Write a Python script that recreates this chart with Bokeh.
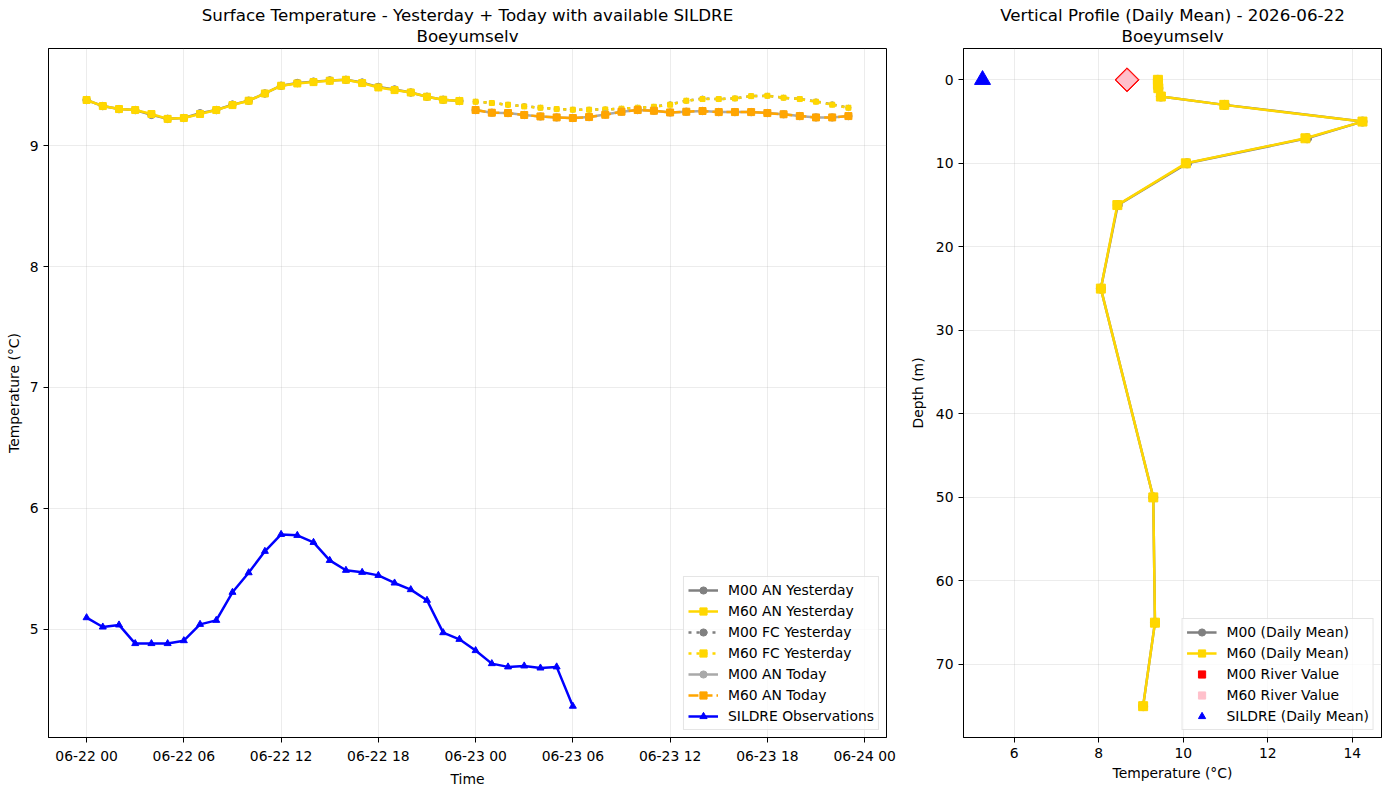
import numpy as np
import pandas as pd
from bokeh.plotting import figure
from bokeh.layouts import row
from bokeh.models import (Range1d, FixedTicker, DatetimeTickFormatter, Legend,
                          LegendItem, Title)
from bokeh.embed import file_html
from bokeh.resources import INLINE

# ---------------- data ----------------
yesterday_times = pd.date_range("2026-06-22 00:00", periods=24, freq="h")
today_times = pd.date_range("2026-06-23 00:00", periods=24, freq="h")
sildre_times = pd.date_range("2026-06-22 00:00", periods=31, freq="h")

m00_an_yesterday = [9.378, 9.328, 9.303, 9.295, 9.255, 9.222, 9.229, 9.268, 9.295, 9.340,
                    9.372, 9.432, 9.496, 9.518, 9.530, 9.540, 9.545, 9.522, 9.486, 9.465,
                    9.440, 9.405, 9.380, 9.370]
m60_an_yesterday = [9.378, 9.328, 9.303, 9.295, 9.262, 9.222, 9.229, 9.262, 9.295, 9.336,
                    9.372, 9.432, 9.496, 9.515, 9.526, 9.537, 9.545, 9.518, 9.482, 9.460,
                    9.440, 9.405, 9.380, 9.370]
m00_fc_yesterday = [9.364, 9.353, 9.339, 9.327, 9.314, 9.303, 9.298, 9.298, 9.300, 9.306,
                    9.314, 9.322, 9.342, 9.372, 9.390, 9.386, 9.391, 9.410, 9.413, 9.397,
                    9.386, 9.366, 9.342, 9.314]
m60_fc_yesterday = [9.364, 9.353, 9.339, 9.325, 9.314, 9.303, 9.298, 9.298, 9.300, 9.306,
                    9.314, 9.322, 9.339, 9.372, 9.386, 9.386, 9.391, 9.410, 9.413, 9.397,
                    9.386, 9.364, 9.339, 9.314]
m00_an_today = [9.295, 9.273, 9.270, 9.254, 9.242, 9.234, 9.229, 9.237, 9.258, 9.281,
                9.295, 9.289, 9.275, 9.281, 9.287, 9.278, 9.278, 9.278, 9.270, 9.260,
                9.245, 9.234, 9.234, 9.245]
m60_an_today = [9.295, 9.273, 9.270, 9.254, 9.242, 9.234, 9.229, 9.237, 9.256, 9.281,
                9.295, 9.289, 9.275, 9.281, 9.287, 9.278, 9.278, 9.278, 9.270, 9.260,
                9.245, 9.234, 9.234, 9.245]
sildre_obs = [5.096, 5.019, 5.036, 4.882, 4.882, 4.882, 4.906, 5.041, 5.074, 5.306,
              5.468, 5.645, 5.785, 5.777, 5.719, 5.570, 5.488, 5.471, 5.446, 5.383,
              5.328, 5.240, 4.972, 4.917, 4.824, 4.716, 4.689, 4.697, 4.680, 4.689,
              4.364]

depths = [0, 0.5, 1, 2, 3, 5, 7, 10, 15, 25, 50, 65, 75]
m00_profile = [9.40, 9.40, 9.41, 9.47, 10.98, 14.24, 12.93, 10.09, 8.45, 8.05, 9.29, 9.33, 9.05]
m60_profile = [9.40, 9.40, 9.41, 9.47, 10.97, 14.24, 12.89, 10.06, 8.44, 8.05, 9.29, 9.33, 9.05]
m00_river = [8.67]
m60_river = [8.67]
sildre_daily_mean = [5.25]
surface_depth = [0]

time_tick_labels = ["06-22 00", "06-22 06", "06-22 12", "06-22 18", "06-23 00",
                    "06-23 06", "06-23 12", "06-23 18", "06-24 00"]

FONT = "DejaVu Sans"
TICK_FS = "13.9px"
TITLE_FS = "16.7px"


def style(p):
    p.outline_line_color = "black"
    p.outline_line_alpha = 1.0
    p.outline_line_width = 1
    p.background_fill_color = "white"
    p.border_fill_color = "white"
    for ax in p.axis:
        ax.axis_line_color = "black"
        ax.major_tick_line_color = "black"
        ax.major_tick_out = 5
        ax.major_tick_in = 0
        ax.minor_tick_line_color = None
        ax.major_label_text_font = FONT
        ax.major_label_text_font_size = TICK_FS
        ax.major_label_text_color = "black"
        ax.major_label_standoff = 5
        ax.axis_label_text_font = FONT
        ax.axis_label_text_font_size = TICK_FS
        ax.axis_label_text_font_style = "normal"
        ax.axis_label_text_color = "black"
    for g in p.grid:
        g.grid_line_color = "#b0b0b0"
        g.grid_line_alpha = 0.3
        g.grid_line_width = 0.8


def add_titles(p, main, sub):
    p.add_layout(Title(text=sub, align="center", text_font=FONT, text_font_size=TITLE_FS,
                       text_font_style="normal", text_color="black", standoff=6), "above")
    p.add_layout(Title(text=main, align="center", text_font=FONT, text_font_size=TITLE_FS,
                       text_font_style="normal", text_color="black", standoff=-9), "above")


def style_legend(lg):
    lg.label_text_font = FONT
    lg.label_text_font_size = TICK_FS
    lg.label_text_color = "black"
    lg.border_line_color = "#cccccc"
    lg.border_line_width = 1
    lg.background_fill_alpha = 0.8
    lg.padding = 4
    lg.spacing = 3
    lg.label_height = 18
    lg.glyph_height = 18
    lg.glyph_width = 30
    lg.label_standoff = 10
    lg.margin = 7


# ---------------- left: time series ----------------
t0 = pd.Timestamp("2026-06-22 00:00")
tick_ms = [(t0 + pd.Timedelta(hours=6 * i)).value / 1e6 for i in range(len(time_tick_labels))]
x_start = t0 - pd.Timedelta(hours=2.35)
x_end = pd.Timestamp("2026-06-23 23:00") + pd.Timedelta(hours=2.35)

p1 = figure(width=906, height=790, x_axis_type="datetime",
            x_range=Range1d(x_start, x_end), y_range=Range1d(4.105, 9.804),
            output_backend="svg", toolbar_location=None,
            min_border_left=48, min_border_right=20, min_border_top=48, min_border_bottom=53)
p1.xaxis.ticker = FixedTicker(ticks=tick_ms)
fmt = "%m-%d %H"
p1.xaxis.formatter = DatetimeTickFormatter(microseconds=fmt, milliseconds=fmt, seconds=fmt,
                                           minsec=fmt, minutes=fmt, hourmin=fmt, hours=fmt,
                                           days=fmt, months=fmt, years=fmt)
p1.yaxis.ticker = FixedTicker(ticks=[5, 6, 7, 8, 9])
p1.xaxis.axis_label = "Time"
p1.yaxis.axis_label = "Temperature (°C)"
style(p1)
p1.xaxis.axis_label_standoff = 4
p1.yaxis.axis_label_standoff = 5
add_titles(p1, "Surface Temperature - Yesterday + Today with available SILDRE", "Boeyumselv")

LW = 2.5
items = []

r1 = p1.line(yesterday_times, m00_an_yesterday, line_color="gray", line_width=LW)
s1 = p1.scatter(yesterday_times, m00_an_yesterday, marker="circle", size=7.5, color="gray")
items.append(LegendItem(label="M00 AN Yesterday", renderers=[r1, s1]))

r2 = p1.line(yesterday_times, m60_an_yesterday, line_color="gold", line_width=LW)
s2 = p1.scatter(yesterday_times, m60_an_yesterday, marker="square", size=7, color="gold")
items.append(LegendItem(label="M60 AN Yesterday", renderers=[r2, s2]))

r3 = p1.line(today_times, m00_fc_yesterday, line_color="gray", line_width=LW, line_dash="3 5")
s3 = p1.scatter(today_times, m00_fc_yesterday, marker="circle", size=5, color="gray")
items.append(LegendItem(label="M00 FC Yesterday", renderers=[r3, s3]))

r4 = p1.line(today_times, m60_fc_yesterday, line_color="gold", line_width=LW, line_dash="3 5")
s4 = p1.scatter(today_times, m60_fc_yesterday, marker="square", size=5, color="gold")
items.append(LegendItem(label="M60 FC Yesterday", renderers=[r4, s4]))

r5 = p1.line(today_times, m00_an_today, line_color="darkgray", line_width=LW)
s5 = p1.scatter(today_times, m00_an_today, marker="circle", size=7.5, color="darkgray")
items.append(LegendItem(label="M00 AN Today", renderers=[r5, s5]))

r6 = p1.line(today_times, m60_an_today, line_color="orange", line_width=LW, line_dash="10 4")
s6 = p1.scatter(today_times, m60_an_today, marker="square", size=7, color="orange")
items.append(LegendItem(label="M60 AN Today", renderers=[r6, s6]))

r7 = p1.line(sildre_times, sildre_obs, line_color="blue", line_width=LW)
s7 = p1.scatter(sildre_times, sildre_obs, marker="triangle", size=7, color="blue")
items.append(LegendItem(label="SILDRE Observations", renderers=[r7, s7]))

lg1 = Legend(items=items, location="bottom_right")
style_legend(lg1)
p1.add_layout(lg1)

# ---------------- right: vertical profile ----------------
p2 = figure(width=483, height=790, x_range=Range1d(4.80, 14.69), y_range=Range1d(78.75, -3.75),
            output_backend="svg", toolbar_location=None,
            min_border_left=56, min_border_right=8, min_border_top=48, min_border_bottom=53)
p2.xaxis.ticker = FixedTicker(ticks=[6, 8, 10, 12, 14])
p2.yaxis.ticker = FixedTicker(ticks=[0, 10, 20, 30, 40, 50, 60, 70])
p2.xaxis.axis_label = "Temperature (°C)"
p2.yaxis.axis_label = "Depth (m)"
style(p2)
p2.xaxis.axis_label_standoff = 4
p2.yaxis.axis_label_standoff = 7
add_titles(p2, "Vertical Profile (Daily Mean) - 2026-06-22", "Boeyumselv")

items2 = []
q1 = p2.line(m00_profile, depths, line_color="gray", line_width=LW)
t1 = p2.scatter(m00_profile, depths, marker="circle", size=9, color="gray")
items2.append(LegendItem(label="M00 (Daily Mean)", renderers=[q1, t1]))
q2 = p2.line(m60_profile, depths, line_color="gold", line_width=LW)
t2 = p2.scatter(m60_profile, depths, marker="square", size=9, color="gold")
items2.append(LegendItem(label="M60 (Daily Mean)", renderers=[q2, t2]))
t3 = p2.scatter(m00_river, surface_depth, marker="square", angle=np.pi / 4, size=17,
                fill_color="red", line_color="red")
items2.append(LegendItem(label="M00 River Value", renderers=[t3]))
t4 = p2.scatter(m60_river, surface_depth, marker="square", angle=np.pi / 4, size=14.5,
                fill_color="pink", line_color="pink")
items2.append(LegendItem(label="M60 River Value", renderers=[t4]))
t5 = p2.scatter(sildre_daily_mean, surface_depth, marker="triangle", size=16, color="blue")
items2.append(LegendItem(label="SILDRE (Daily Mean)", renderers=[t5]))

lg2 = Legend(items=items2, location="bottom_right")
style_legend(lg2)
p2.add_layout(lg2)

layout = row(p1, p2)
open("out.html", "w").write(file_html(layout, INLINE))
